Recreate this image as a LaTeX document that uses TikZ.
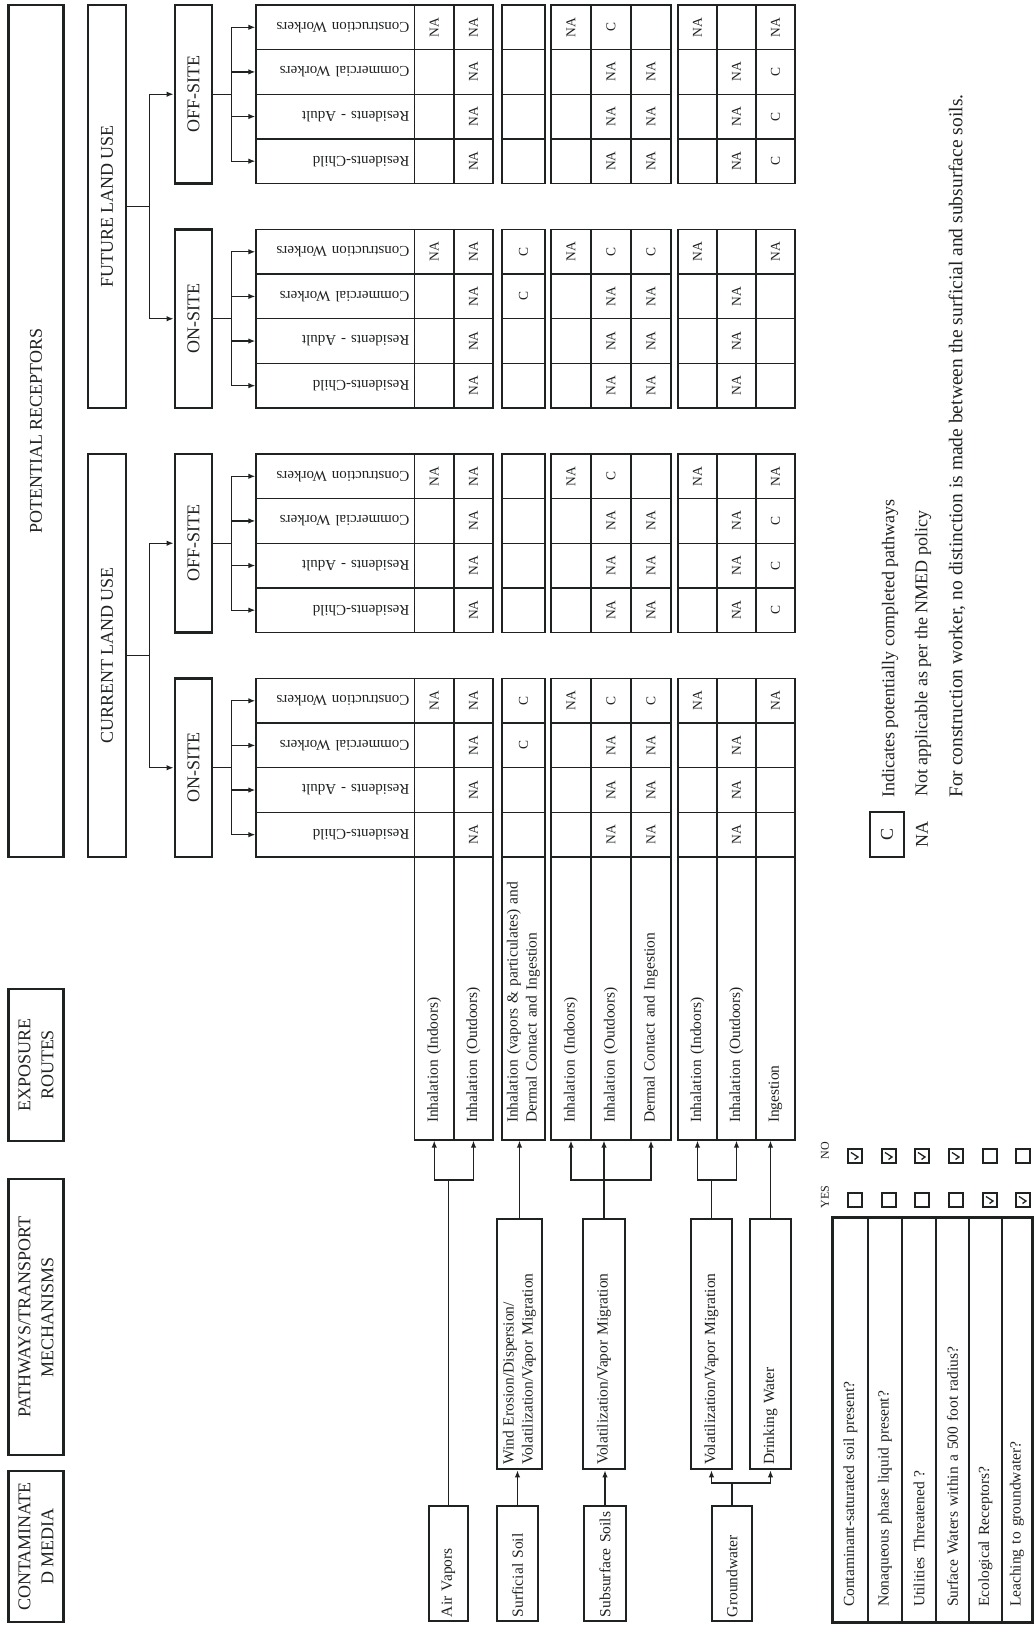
\documentclass[tikz,border=0pt]{standalone}
\usepackage{fontspec}
\setmainfont{Liberation Serif}
\usetikzlibrary{arrows.meta,calc}

\definecolor{ink}{RGB}{30,34,32}
\newcommand\hdrfont{\fontsize{18}{23}\selectfont}
\newcommand\txtfont{\fontsize{15.5}{19}\selectfont}
\newcommand\labfont{\fontsize{15}{18}\selectfont}
\newcommand\cellfont{\fontsize{13.5}{16}\selectfont}
\newcommand\lgdfont{\fontsize{18}{22}\selectfont}
\newcommand\ynfont{\fontsize{12}{14}\selectfont}
% x stands for an empty cell
\newcommand\cellmark[1]{\if x#1\else #1\fi}
\newcommand\onsitevals{{x,NA,x,x,NA,NA,x,NA,x},{x,NA,x,x,NA,NA,x,NA,x},{x,NA,C,x,NA,NA,x,NA,x},{NA,NA,C,NA,C,C,NA,x,NA}}
\newcommand\offsitevals{{x,NA,x,x,NA,NA,x,NA,C},{x,NA,x,x,NA,NA,x,NA,C},{x,NA,x,x,NA,NA,x,NA,C},{NA,NA,x,NA,C,x,NA,x,NA}}
\newcommand\cellgroup[3]{%
  \foreach \col [count=\c] in #3 {
    \foreach \t [count=\r] in \col {
      \pgfmathsetmacro\vt{{619.5,580,532,483,443,403,356,317,278}[\r-1]}
      \pgfmathsetmacro\vb{{580,541,489,443,403,363,317,278,239}[\r-1]}
      \node[cell, minimum height={\vt-\vb}] (c-#1-\c-\r) at ({#2+(\c-0.5)*44.625},{(\vt+\vb)/2}) {\cellmark{\t}};
    }
  }%
}

\begin{document}
% drawn lying on its side: x runs up the page, y runs to the left
\begin{tikzpicture}[x={(0pt,1pt)}, y={(-1pt,0pt)}, every node/.append style={rotate=90},
  >={Latex[length=7pt,width=5.5pt]}, ink, text=ink,
  hdr/.style={draw, line width=2.6pt, align=center, font=\hdrfont, minimum height=55pt, inner sep=0pt},
  lvl/.style={draw, line width=2.8pt, font=\hdrfont, inner sep=0pt},
  mbox/.style={draw, line width=2.8pt, align=left, font=\txtfont, inner xsep=4pt, inner ysep=0pt},
  route/.style={draw, line width=1.3pt, align=left, font=\txtfont, text width=249pt, inner xsep=17pt, inner ysep=0pt},
  cell/.style={draw, line width=1.3pt, minimum width=44.625pt, font=\cellfont, inner sep=0pt},
  reclab/.style={draw, line width=1.3pt, rotate=90, minimum width=158.5pt, minimum height=44.625pt, text width=148.5pt, inner xsep=5pt, inner ysep=0pt, align=left, font=\labfont},
  qrow/.style={draw, line width=1.3pt, align=left, font=\txtfont, text width=374pt, inner xsep=15pt, inner ysep=0pt},
  chkbox/.style={draw, line width=1.3pt, minimum size=14pt, inner sep=0pt},
  link/.style={line width=1.3pt}]
\useasboundingbox (0,0) rectangle (1625,1034);

% column headings
\node[hdr, minimum width=151pt] (hmed) at (78.5,998) {CONTAMINATE\\D MEDIA};
\node[hdr, minimum width=276pt] (hpath) at (308,998) {PATHWAYS/TRANSPORT\\MECHANISMS};
\node[hdr, minimum width=152pt] (hroute) at (560,998) {EXPOSURE\\ROUTES};
\node[hdr, minimum width=852pt] (hrec) at (1194,998) {POTENTIAL RECEPTORS};

% land use and site
\node[lvl, minimum width=403pt, minimum height=38pt] (cur) at (969.5,927) {CURRENT LAND USE};
\node[lvl, minimum width=403pt, minimum height=38pt] (fut) at (1418.5,927) {FUTURE LAND USE};
\node[lvl, minimum width=178.5pt, minimum height=37pt] (con) at (857.25,840.5) {ON-SITE};
\node[lvl, minimum width=178.5pt, minimum height=37pt] (coff) at (1081.75,840.5) {OFF-SITE};
\node[lvl, minimum width=178.5pt, minimum height=37pt] (fon) at (1306.25,840.5) {ON-SITE};
\node[lvl, minimum width=178.5pt, minimum height=37pt] (foff) at (1530.75,840.5) {OFF-SITE};

\draw[link] (cur.south) -- ++(0,-22) coordinate (jc);
\draw[link,->] (jc) |- (con.north);
\draw[link,->] (jc) |- (coff.north);
\draw[link] (fut.south) -- ++(0,-22) coordinate (jf);
\draw[link,->] (jf) |- (fon.north);
\draw[link,->] (jf) |- (foff.north);

% receptors
\foreach \g/\gu/\s in {1/768/con, 2/992.5/coff, 3/1217/fon, 4/1441.5/foff} {
  \foreach \lab [count=\c] in {Residents-Child, Residents - Adult, Commercial Workers, Construction Workers}
    \node[reclab] (l-\g-\c) at ({\gu+(\c-0.5)*44.625},698.75) {\lab};
  \draw[link] (\s.south) -- ++(0,-18) coordinate (j-\g);
  \foreach \c in {1,...,4}
    \draw[link,->] (j-\g) |- (l-\g-\c.east);
}

% exposure routes
\foreach \r/\vt/\vb/\txt in {1/619.5/580/Inhalation (Indoors), 2/580/541/Inhalation (Outdoors),
    3/532/489/{Inhalation (vapors \& particulates) and\\Dermal Contact and Ingestion},
    4/483/443/Inhalation (Indoors), 5/443/403/Inhalation (Outdoors), 6/403/363/Dermal Contact and Ingestion,
    7/356/317/Inhalation (Indoors), 8/317/278/Inhalation (Outdoors), 9/278/239/Ingestion}
  \node[route, minimum height={\vt-\vb}] (r-\r) at (626.5,{(\vt+\vb)/2}) {\txt};

\cellgroup{1}{768}{\onsitevals}
\cellgroup{2}{992.5}{\offsitevals}
\cellgroup{3}{1217}{\onsitevals}
\cellgroup{4}{1441.5}{\offsitevals}

% media and pathways
\node[mbox, text width=107pt, minimum height=39pt] (air) at (61.5,585.5) {Air Vapors};
\node[mbox, text width=107pt, minimum height=41pt] (surf) at (61.5,516.5) {Surficial Soil};
\node[mbox, text width=107pt, minimum height=42pt] (subs) at (61.5,429) {Subsurface Soils};
\node[mbox, text width=107pt, minimum height=40pt] (gw) at (61.5,302) {Groundwater};
\node[mbox, text width=242pt, minimum height=45pt] (wind) at (281,514.5) {Wind Erosion/Dispersion/\\Volatilization/Vapor Migration};
\node[mbox, text width=242pt, minimum height=42pt] (vols) at (281,430) {Volatilization/Vapor Migration};
\node[mbox, text width=242pt, minimum height=41pt] (volg) at (281,322.5) {Volatilization/Vapor Migration};
\node[mbox, text width=242pt, minimum height=41pt] (drink) at (281,263.5) {Drinking Water};

\coordinate (ja) at (445,585.5);
\draw[link] (air.east) -- (ja);
\draw[link,->] (ja) -| (r-1.west);
\draw[link,->] (ja) -| (r-2.west);

\draw[link,->] (surf.east) -- (surf.east |- wind.west);
\draw[link,->] (wind.east) -- (wind.east |- r-3.west);

\draw[link,->] (subs.east) -- (subs.east |- vols.west);
\coordinate (js) at (445,430);
\draw[link] (vols.east) -- (js);
\draw[link,->] (js) -| (r-4.west);
\draw[link,->] (js) -- (js |- r-5.west);
\draw[link,->] (js) -| (r-6.west);

\coordinate (jg) at (142,302);
\draw[link] (gw.east) -- (jg);
\draw[link,->] (jg) -| (volg.west);
\draw[link,->] (jg) -| (drink.west);
\coordinate (jv) at (445,322.5);
\draw[link] (volg.east) -- (jv);
\draw[link,->] (jv) -| (r-7.west);
\draw[link,->] (jv) -| (r-8.west);
\draw[link,->] (drink.east) -- (drink.east |- r-9.west);

% site questions
\foreach \q/\vc/\h [count=\i] in {Contaminant-saturated soil present?/183.5/35, Nonaqueous phase liquid present?/149/34,
    Utilities Threatened ?/115/34, Surface Waters within a 500 foot radius?/81.5/33,
    Ecological Receptors?/48.5/33, Leaching to groundwater?/17/30}
  \node[qrow, minimum height=\h pt] (q-\i) at (205,\vc) {\q};
\draw[line width=2.8pt] (q-1.north west) rectangle (q-6.south east);

\node[font=\ynfont] (yeslab) at (428,209) {YES};
\node[font=\ynfont] (nolab) at (474,209) {NO};
\foreach \i/\vc/\ans in {1/179/no, 2/145/no, 3/112/no, 4/78/no, 5/44/yes, 6/11/yes} {
  \node[chkbox] (yes-\i) at (425,\vc) {};
  \node[chkbox] (no-\i) at (469,\vc) {};
  \draw[link] ($(\ans-\i.center)+(-3.5,0.5)$) -- ($(\ans-\i.center)+(-1,-3)$) -- ($(\ans-\i.center)+(3.5,4)$);
}

% legend
\node[draw, line width=1.3pt, minimum width=45pt, minimum height=34pt, font=\lgdfont, inner sep=0pt] (lgc) at (790.5,147) {C};
\node[font=\lgdfont, inner sep=0pt] (lgna) at (790,112) {NA};
\node[font=\lgdfont, anchor=west, inner sep=0pt] (lgt1) at (827,144) {Indicates potentially completed pathways};
\node[font=\lgdfont, anchor=west, inner sep=0pt] (lgt2) at (828,111) {Not applicable as per the NMED policy};
\node[font=\fontsize{19.5}{23}\selectfont, anchor=west, inner sep=0pt] (lgt3) at (827,77) {For construction worker, no distinction is made between the surficial and subsurface soils.};
\end{tikzpicture}
\end{document}
